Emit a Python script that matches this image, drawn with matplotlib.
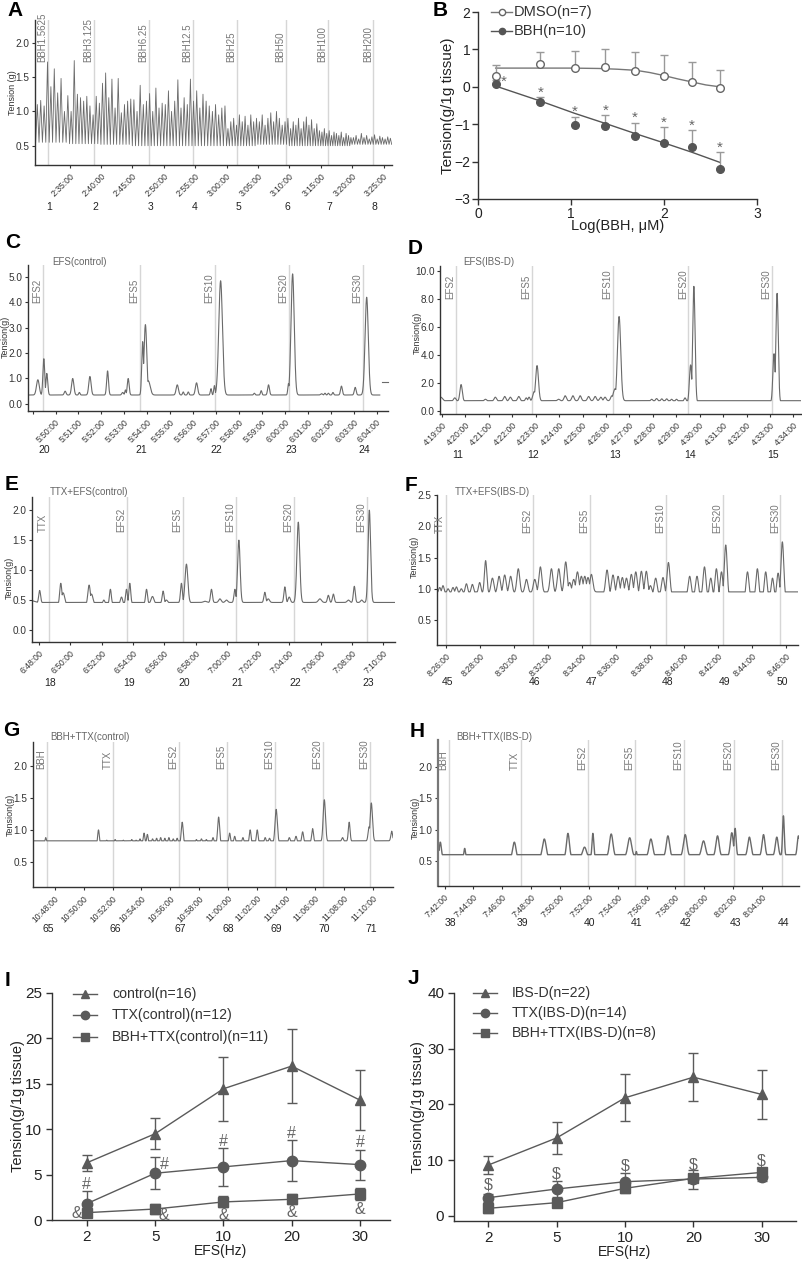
import numpy as np
import matplotlib
matplotlib.use("Agg")
import matplotlib.pyplot as plt
from matplotlib.lines import Line2D
from matplotlib.transforms import blended_transform_factory

plt.rcParams['font.family'] = ['Liberation Sans', 'DejaVu Sans']

# ======================= DATA =======================
# ---- Panel A (minutes after 2:00) ----
A_seg_bounds = [29.6, 35, 40, 45, 50, 55, 60, 65, 70, 75, 80, 86.3]
A_seg_peaks = [
    [1.10, 1.16, 1.08, 1.72, 1.36, 1.62, 1.27, 1.48, 1.00, 1.23],
    [1.00, 1.74, 1.25, 1.20, 1.15, 1.22, 1.08, 0.95, 1.22, 1.12],
    [1.41, 1.56, 1.20, 1.47, 1.05, 1.48, 0.98, 1.10, 1.15, 1.18],
    [1.17, 1.00, 1.38, 1.10, 1.15, 1.26, 1.00, 1.34, 1.05, 1.12],
    [1.10, 1.30, 1.00, 1.15, 1.46, 1.05, 1.20, 1.10, 1.47, 1.15],
    [1.30, 1.05, 1.25, 1.15, 1.08, 1.00, 1.10, 0.95, 1.05, 1.08],
    [0.75, 0.85, 0.90, 0.80, 0.95, 0.85, 0.93, 0.80, 0.95, 0.85, 0.90],
    [0.85, 0.95, 0.80, 0.90, 0.98, 0.85, 1.00, 0.90, 0.80, 0.85, 0.90],
    [0.75, 0.85, 0.80, 0.90, 0.75, 0.85, 0.92, 0.80, 0.88, 0.75, 0.82, 0.72],
    [0.70, 0.75, 0.68, 0.72, 0.65, 0.70, 0.68, 0.65, 0.70, 0.62, 0.68, 0.65, 0.62],
    [0.62, 0.65, 0.60, 0.68, 0.62, 0.65, 0.60, 0.63, 0.66, 0.60, 0.64, 0.62, 0.60, 0.63, 0.61],
]
A_seg_troughs = [0.55, 0.53, 0.52, 0.50, 0.50, 0.50, 0.50, 0.52, 0.50, 0.50, 0.52]
A_ticks = [35, 40, 45, 50, 55, 60, 65, 70, 75, 80, 85]
A_tick_labels = ['2:35:00', '2:40:00', '2:45:00', '2:50:00', '2:55:00', '3:00:00',
                 '3:05:00', '3:10:00', '3:15:00', '3:20:00', '3:25:00']
A_marks = [31.6, 38.9, 47.6, 54.7, 61.7, 69.4, 76.2, 83.4]
A_mark_labels = ['BBH1.5625', 'BBH3.125', 'BBH6.25', 'BBH12.5', 'BBH25', 'BBH50', 'BBH100', 'BBH200']
A_nums = ['1', '2', '3', '4', '5', '6', '7', '8']

# ---- Panel B ----
B_x = [0.19, 0.67, 1.04, 1.37, 1.69, 2.0, 2.3, 2.6]
B_dmso = [0.30, 0.61, 0.50, 0.54, 0.43, 0.29, 0.13, -0.03]
B_dmso_err = [0.27, 0.31, 0.46, 0.47, 0.51, 0.55, 0.52, 0.49]
B_bbh = [0.08, -0.40, -1.01, -1.04, -1.32, -1.49, -1.62, -2.21]
B_bbh_err = [0.10, 0.13, 0.21, 0.28, 0.36, 0.42, 0.46, 0.47]
B_dmso_fit_x = [0.19, 0.6, 1.0, 1.3, 1.5, 1.7, 1.85, 2.0, 2.15, 2.3, 2.45, 2.6]
B_dmso_fit_y = [0.50, 0.50, 0.50, 0.49, 0.47, 0.44, 0.38, 0.30, 0.21, 0.13, 0.05, 0.00]
B_bbh_fit_x = [0.19, 0.67, 1.04, 1.37, 1.69, 2.0, 2.3, 2.6]
B_bbh_fit_y = [0.02, -0.38, -0.71, -0.98, -1.25, -1.50, -1.75, -2.02]

# ---- Panel C (minutes after 5:00) ----
C_base_t = [48.84, 64.14]
C_base_v = [0.35, 0.35]
C_pk_t = [49.23, 49.49, 49.62, 50.42, 50.75, 51.04, 51.5, 52.27, 52.93, 53.05, 53.17,
          53.8, 53.92, 54.05, 55.31, 55.57, 55.79, 56.15, 56.78, 56.93, 57.2, 58.67,
          58.97, 59.29, 60.16, 60.34, 61.6, 61.75, 61.9, 62.1, 62.47, 63.07, 63.57]
C_pk_h = [0.95, 1.78, 1.2, 0.5, 1.0, 0.45, 1.08, 1.3, 0.45, 0.55, 1.0,
          2.45, 3.12, 0.9, 0.75, 0.47, 0.47, 0.83, 0.6, 0.72, 4.85, 0.42,
          0.52, 0.75, 0.8, 5.12, 0.4, 0.42, 0.42, 0.45, 0.7, 0.65, 4.2]
C_pk_w = [0.06, 0.04, 0.04, 0.04, 0.05, 0.03, 0.05, 0.04, 0.04, 0.03, 0.04,
          0.04, 0.06, 0.08, 0.05, 0.03, 0.03, 0.05, 0.03, 0.03, 0.08, 0.03,
          0.03, 0.04, 0.03, 0.07, 0.04, 0.03, 0.03, 0.03, 0.04, 0.04, 0.07]
C_ticks = [49, 50, 51, 52, 53, 54, 55, 56, 57, 58, 59, 60, 61, 62, 63, 64]
C_tick_labels = ['', '5:50:00', '5:51:00', '5:52:00', '5:53:00', '5:54:00', '5:55:00', '5:56:00',
                 '5:57:00', '5:58:00', '5:59:00', '6:00:00', '6:01:00', '6:02:00', '6:03:00', '6:04:00']
C_marks = [49.45, 53.69, 56.95, 60.2, 63.39]
C_mark_labels = ['EFS2', 'EFS5', 'EFS10', 'EFS20', 'EFS30']
C_nums = ['20', '21', '22', '23', '24']

# ---- Panel D (minutes after 4:00) ----
D_base_t = [18.94, 26.5, 29.9, 34.3]
D_base_v = [0.72, 0.75, 0.62, 0.60]
D_pk_t = [18.95, 19.55, 19.82, 20.86, 21.28, 21.68, 21.92, 22.28, 22.6, 22.72, 22.94, 23.06,
          23.98, 24.26, 24.59, 24.9, 25.26, 25.54, 25.78, 25.96, 26.25, 26.39, 26.56,
          27.95, 28.16, 28.38, 28.59, 28.8, 29.01, 29.37, 29.61, 29.75,
          31.57, 32.13, 32.28, 32.8, 33.17, 33.3]
D_pk_h = [1.0, 0.95, 1.9, 0.85, 1.0, 1.05, 1.0, 1.05, 0.95, 1.0, 1.4, 3.25,
          0.85, 1.1, 1.1, 1.1, 1.05, 1.05, 1.0, 1.0, 1.1, 1.6, 6.75,
          0.85, 0.9, 0.88, 0.88, 0.85, 0.85, 0.95, 3.3, 8.9,
          0.75, 0.65, 0.68, 0.7, 4.1, 8.4]
D_pk_w = [0.08, 0.05, 0.05, 0.05, 0.05, 0.05, 0.05, 0.05, 0.04, 0.04, 0.06, 0.06,
          0.05, 0.05, 0.05, 0.05, 0.05, 0.05, 0.05, 0.05, 0.05, 0.08, 0.07,
          0.05, 0.05, 0.05, 0.05, 0.05, 0.05, 0.05, 0.05, 0.05,
          0.05, 0.05, 0.05, 0.05, 0.05, 0.05]
D_ticks = list(range(19, 35))
D_tick_labels = ['4:19:00', '4:20:00', '4:21:00', '4:22:00', '4:23:00', '4:24:00', '4:25:00', '4:26:00',
                 '4:27:00', '4:28:00', '4:29:00', '4:30:00', '4:31:00', '4:32:00', '4:33:00', '4:34:00']
D_marks = [19.6, 22.85, 26.32, 29.52, 33.08]
D_mark_labels = ['EFS2', 'EFS5', 'EFS10', 'EFS20', 'EFS30']
D_nums = ['11', '12', '13', '14', '15']

# ---- Panel E (minutes after 6:00) ----
E_base_t = [47.55, 48.5, 50.0, 55.0, 58.0, 70.75]
E_base_v = [0.49, 0.42, 0.41, 0.44, 0.46, 0.46]
E_pk_t = [48.04, 48.68, 49.39, 49.54, 51.2, 51.35, 52.14, 52.56, 53.27, 53.59, 53.8,
          54.87, 55.25, 55.93, 56.14, 57.1, 57.42, 58.6, 59.02, 59.56, 59.98, 60.52,
          60.77, 62.43, 62.65, 63.71, 63.99, 64.57, 65.95, 66.49, 66.81, 67.77,
          68.15, 68.62, 69.11]
E_pk_h = [0.66, 0.44, 0.78, 0.62, 0.75, 0.6, 0.5, 0.68, 0.55, 0.68, 0.78,
          0.68, 0.56, 0.65, 0.5, 0.78, 1.1, 0.48, 0.68, 0.52, 0.5, 0.68,
          1.5, 0.63, 0.52, 0.72, 0.55, 1.8, 0.52, 0.58, 0.6, 0.5,
          0.73, 0.5, 2.0]
E_pk_w = [0.06, 0.07, 0.07, 0.10, 0.08, 0.10, 0.07, 0.06, 0.07, 0.06, 0.06,
          0.06, 0.09, 0.06, 0.08, 0.06, 0.09, 0.10, 0.06, 0.08, 0.08, 0.06,
          0.08, 0.06, 0.08, 0.06, 0.07, 0.09, 0.10, 0.06, 0.06, 0.08,
          0.06, 0.07, 0.08]
E_ticks = list(range(48, 71, 2))
E_tick_labels = ['6:48:00', '6:50:00', '6:52:00', '6:54:00', '6:56:00', '6:58:00',
                 '7:00:00', '7:02:00', '7:04:00', '7:06:00', '7:08:00', '7:10:00']
E_marks = [48.62, 53.63, 57.21, 60.58, 64.29, 68.93]
E_mark_labels = ['TTX', 'EFS2', 'EFS5', 'EFS10', 'EFS20', 'EFS30']
E_nums = ['18', '19', '20', '21', '22', '23']

# ---- Panel F (minutes after 8:00) ----
F_base_t = [25.49, 34.6, 35.2, 39.3, 40.2, 42.6, 43.6, 46.0, 46.72]
F_base_v = [0.92, 0.95, 0.92, 0.90, 0.88, 0.84, 0.83, 0.81, 0.80]
F_pk_t = [25.65, 25.84, 26.14, 26.43, 26.63, 26.92, 27.22, 27.57, 28.0, 28.35, 28.75,
          29.14, 29.47, 29.82, 30.27, 30.75, 31.24, 31.57, 32.22, 32.65, 33.06, 33.29,
          33.53, 33.75, 33.98, 34.18, 34.37, 34.57, 35.49, 35.84, 36.14, 36.39, 36.63,
          36.92, 37.18, 37.51, 37.8, 38.04, 38.35, 38.78, 39.1, 40.35, 40.78, 41.22,
          41.59, 41.92, 42.22, 42.47, 43.75, 44.33, 44.82, 45.22, 45.55, 45.8]
F_pk_h = [1.02, 1.05, 1.0, 1.02, 1.03, 1.0, 1.08, 1.07, 1.1, 1.45, 1.17,
          1.2, 1.22, 1.2, 1.32, 1.15, 1.15, 1.35, 1.32, 1.32, 1.43, 1.1,
          1.15, 1.27, 1.2, 1.2, 1.18, 1.23, 1.3, 1.22, 1.2, 1.18, 1.17,
          1.23, 1.27, 1.28, 1.28, 1.05, 1.17, 1.18, 1.42, 1.2, 1.2, 1.35,
          1.17, 1.32, 1.27, 1.7, 1.27, 1.32, 1.27, 1.17, 1.25, 1.75]
F_pk_w = [0.07] * 10 + [0.085] * 44
F_ticks = list(range(26, 47, 2))
F_tick_labels = ['8:26:00', '8:28:00', '8:30:00', '8:32:00', '8:34:00', '8:36:00',
                 '8:38:00', '8:40:00', '8:42:00', '8:44:00', '8:46:00']
F_marks = [26.0, 31.14, 34.49, 38.94, 42.31, 45.69]
F_mark_labels = ['TTX', 'EFS2', 'EFS5', 'EFS10', 'EFS20', 'EFS30']
F_nums = ['45', '46', '47', '48', '49', '50']

# ---- Panel G (minutes after 10:00) ----
G_base_t = [46.5, 56.7, 60.3, 63.8, 67.2, 71.4]
G_base_v = [0.74, 0.77, 0.78, 0.80, 0.82, 0.83]
G_pk_t = [46.62, 46.85, 47.06, 47.38, 47.7, 47.93, 48.21, 48.46, 48.74, 49.01, 49.26, 49.54,
          49.81, 50.11, 50.36, 50.64, 51.03, 51.33, 51.6, 51.9, 52.18, 52.48, 52.75, 53.05,
          53.33, 53.63, 53.9, 54.18, 54.41, 54.77, 55.05, 55.33, 55.62, 55.9, 56.2, 56.47,
          56.82, 57.46, 57.8, 58.15, 58.49, 58.95, 59.34, 60.1, 60.45, 61.02, 61.52, 62.01,
          62.56, 62.86, 63.32, 64.23, 64.69, 65.15, 65.84, 66.65, 67.91, 68.37, 69.75, 69.9,
          71.31]
G_pk_h = [0.82, 0.80, 0.82, 0.88, 0.80, 0.81, 0.80, 0.81, 0.80, 0.82, 0.80, 0.82,
          0.81, 0.82, 0.83, 0.82, 1.00, 0.82, 0.84, 0.83, 0.85, 0.82, 0.84, 0.83,
          0.85, 0.84, 0.86, 0.95, 0.93, 0.86, 0.87, 0.88, 0.87, 0.88, 0.86, 0.87,
          1.12, 0.83, 0.85, 0.86, 0.85, 0.88, 1.20, 0.95, 0.90, 0.88, 1.00, 1.00,
          0.88, 0.87, 1.32, 0.88, 0.90, 0.97, 1.02, 1.47, 0.88, 1.12, 1.05, 1.42,
          0.98]
G_pk_w = ([0.06] * 36 + [0.07] + [0.06] * 5 + [0.07] + [0.06] * 7 + [0.08] + [0.06] * 4
          + [0.08] + [0.06, 0.06, 0.07, 0.08, 0.06])
G_ticks = list(range(48, 71, 2))
G_tick_labels = ['10:48:00', '10:50:00', '10:52:00', '10:54:00', '10:56:00', '10:58:00',
                 '11:00:00', '11:02:00', '11:04:00', '11:06:00', '11:08:00', '11:10:00']
G_marks = [47.47, 52.06, 56.61, 59.92, 63.22, 66.53, 69.79]
G_mark_labels = ['BBH', 'TTX', 'EFS2', 'EFS5', 'EFS10', 'EFS20', 'EFS30']
G_nums = ['65', '66', '67', '68', '69', '70', '71']

# ---- Panel H (minutes after 7:00) ----
H_base_t = [41.54, 41.9, 46.0, 47.5, 50.0, 55.0, 66.6]
H_base_v = [0.60, 0.52, 0.51, 0.52, 0.55, 0.57, 0.58]
H_pk_t = [41.54, 41.7, 43.39, 46.83, 48.91, 49.97, 50.55, 51.7, 52.28, 53.55, 54.83, 55.29,
          56.3, 57.48, 58.68, 59.95, 60.92, 61.91, 62.14, 63.13, 64.11, 65.03, 65.49, 66.53]
H_pk_h = [0.72, 0.80, 0.70, 0.80, 0.85, 0.57, 0.94, 0.72, 0.94, 0.93, 0.87, 0.65,
          0.85, 0.90, 0.92, 0.82, 0.90, 0.95, 1.02, 0.88, 0.92, 0.88, 1.22, 0.90]
H_pk_w = [0.06, 0.07, 0.06, 0.12, 0.13, 0.05, 0.10, 0.13, 0.06, 0.12, 0.13, 0.04,
          0.12, 0.11, 0.12, 0.13, 0.11, 0.10, 0.07, 0.11, 0.10, 0.10, 0.06, 0.08]
H_ticks = list(range(42, 65, 2))
H_tick_labels = ['7:42:00', '7:44:00', '7:46:00', '7:48:00', '7:50:00', '7:52:00',
                 '7:54:00', '7:56:00', '7:58:00', '8:00:00', '8:02:00', '8:04:00']
H_marks = [42.32, 47.29, 51.93, 55.19, 58.6, 62.09, 65.42]
H_mark_labels = ['BBH', 'TTX', 'EFS2', 'EFS5', 'EFS10', 'EFS20', 'EFS30']
H_nums = ['38', '39', '40', '41', '42', '43', '44']

# ---- Panel I ----
EFS_labels = ['2', '5', '10', '20', '30']
I_control = [6.3, 9.5, 14.45, 16.95, 13.2]
I_control_err = [0.9, 1.7, 3.5, 4.05, 3.3]
I_ttx = [1.8, 5.15, 5.85, 6.54, 6.1]
I_ttx_err = [1.35, 1.75, 2.1, 2.25, 1.65]
I_bbh = [0.81, 1.21, 1.99, 2.28, 2.87]
I_bbh_err = [0.3, 0.5, 0.6, 0.55, 0.7]
I_hash_y = [3.9, 6.1, 8.7, 9.5, 8.5]
I_amp_y = [0.7, 0.5, 0.5, 0.85, 1.15]

# ---- Panel J ----
J_ibs = [9.13, 14.0, 21.2, 24.9, 21.8]
J_ibs_err = [1.6, 2.85, 4.2, 4.25, 4.35]
J_ttx = [3.28, 4.84, 6.15, 6.63, 6.93]
J_ttx_err = [0.7, 1.5, 1.5, 1.7, 0.6]
J_bbh = [1.37, 2.39, 4.96, 6.75, 7.82]
J_bbh_err = [0.9, 0.4, 0.9, 0.7, 0.7]
J_dollar_y = [5.6, 7.6, 9.0, 9.1, 9.85]

# ======================= FIGURE =======================
W, H = 803, 1262
fig = plt.figure(figsize=(W / 100, H / 100), dpi=100)
DARK = '#333333'
TRACE = '#6a6a6a'
VLINE = '#d6d6d6'
PTC = '#5a5a5a'


def fx(x):
    return x / W


def fy(y):
    return 1 - y / H


def add_ax(l, t, r, b):
    return fig.add_axes([l / W, 1 - b / H, (r - l) / W, (b - t) / H])


def letter(x, y, s):
    fig.text(fx(x), fy(y), s, fontsize=15, fontweight='bold', ha='left', va='center', color='black')


def style_axes(ax, lw=1.0):
    for s in ['top', 'right']:
        ax.spines[s].set_visible(False)
    for s in ['left', 'bottom']:
        ax.spines[s].set_color(DARK)
        ax.spines[s].set_linewidth(lw)


def build_trace(t0, t1, base_t, base_v, pk_t, pk_h, pk_w, n=5000):
    t = np.linspace(t0, t1, n)
    base = np.interp(t, base_t, base_v)
    y = base.copy()
    for tp, hp, wp in zip(pk_t, pk_h, pk_w):
        bp = np.interp(tp, base_t, base_v)
        y = np.maximum(y, bp + (hp - bp) * np.exp(-0.5 * ((t - tp) / wp) ** 2))
    return t, y


def trace_panel(box, xlim, ylim, yticks, t, y, xticks, xlabels, marks, mark_labels, mark_y,
                nums, num_y, ylab_xy, title=None, title_xy=None, lw=0.8):
    ax = add_ax(*box)
    style_axes(ax)
    for m in marks:
        ax.axvline(m, color=VLINE, lw=1.0, zorder=0)
    ax.plot(t, y, color=TRACE, lw=lw, zorder=2)
    ax.set_xlim(*xlim)
    ax.set_ylim(*ylim)
    ax.set_yticks(yticks)
    ax.set_yticklabels(['%.1f' % v for v in yticks], fontsize=7.2, color=DARK)
    ax.set_xticks(xticks)
    ax.set_xticklabels(xlabels, rotation=45, ha='right', rotation_mode='anchor',
                       fontsize=6.2, color=DARK)
    ax.tick_params(axis='both', direction='out', length=2.5, width=0.8, color=DARK, pad=1.5)
    ax.tick_params(axis='x', pad=2.5)
    ax.set_ylabel('Tension(g)', fontsize=6.5, color=DARK)
    ax.yaxis.set_label_coords(*ylab_xy)
    for m, lab in zip(marks, mark_labels):
        ax.text(m - (xlim[1] - xlim[0]) * 0.002, mark_y, lab, rotation=90, ha='right', va='bottom',
                fontsize=7, color='#777777', clip_on=False)
    tr = blended_transform_factory(ax.transData, fig.transFigure)
    for m, n in zip(marks, nums):
        ax.text(m + (xlim[1] - xlim[0]) * 0.004, fy(num_y), n, transform=tr, ha='center', va='center',
                fontsize=7.5, color='#222222')
    if title:
        fig.text(fx(title_xy[0]), fy(title_xy[1]), title, fontsize=7, color='#666666',
                 ha='left', va='center')
    return ax


# ---------------- Panel A ----------------
tA, yA = [], []
for i in range(len(A_seg_peaks)):
    s, e = A_seg_bounds[i], A_seg_bounds[i + 1]
    pk = A_seg_peaks[i]
    n = len(pk)
    for k in range(n):
        tA.append(s + k * (e - s) / n)
        yA.append(A_seg_troughs[i])
        tA.append(s + (k + 0.5) * (e - s) / n)
        yA.append(pk[k])
tA.append(A_seg_bounds[-1])
yA.append(A_seg_troughs[-1])
letter(7, 10, 'A')
axA = trace_panel((35, 20, 392, 165), (29.5, 86.35), (0.22, 2.33), [0.5, 1.0, 1.5, 2.0],
                  tA, yA, A_ticks, A_tick_labels, A_marks, A_mark_labels, 1.72,
                  A_nums, 207, (-0.051, 0.59), lw=0.6)
axA.set_ylabel('Tension (g)', fontsize=6.5, color=DARK)

# ---------------- Panel B ----------------
letter(433, 10, 'B')
axB = add_ax(478, 12, 757, 199)
style_axes(axB)
axB.plot(B_dmso_fit_x, B_dmso_fit_y, color='#777777', lw=1.0, zorder=2)
axB.plot(B_bbh_fit_x, B_bbh_fit_y, color='#555555', lw=1.0, zorder=2)
axB.errorbar(B_x, B_dmso, yerr=[np.zeros(len(B_x)), B_dmso_err], fmt='o', ms=5.5,
             mfc='white', mec='#666666', mew=1.0, ecolor='#999999', elinewidth=1.0,
             capsize=3, capthick=1.0, zorder=3)
axB.errorbar(B_x, B_bbh, yerr=[np.zeros(len(B_x)), B_bbh_err], fmt='o', ms=5.5,
             mfc='#555555', mec='#555555', ecolor='#999999', elinewidth=1.0,
             capsize=3, capthick=1.0, zorder=3)
for i, (xv, yv, ev) in enumerate(zip(B_x, B_bbh, B_bbh_err)):
    if i == 0:
        axB.text(xv + 0.09, yv + 0.05, '*', fontsize=11, color='#666666', ha='center', va='center')
    else:
        axB.text(xv, yv + ev + 0.12, '*', fontsize=11, color='#666666', ha='center', va='center')
axB.set_xlim(0, 3)
axB.set_ylim(-3, 2)
axB.set_xticks([0, 1, 2, 3])
axB.set_yticks([-3, -2, -1, 0, 1, 2])
axB.tick_params(axis='both', direction='out', length=4, width=1, color=DARK, labelsize=10,
                labelcolor='#222222', pad=1.5)
axB.set_xlabel('Log(BBH, μM)', fontsize=10.5, color='#222222')
axB.xaxis.set_label_coords(0.5, -0.108)
axB.set_ylabel('Tension(g/1g tissue)', fontsize=11, color='#222222')
axB.yaxis.set_label_coords(-0.082, 0.5)


def legend_row(x0, x1, xm, xt, y, marker, mfc, mec, text, fs, ms, lc):
    fig.add_artist(Line2D([fx(x0), fx(x1)], [fy(y), fy(y)], transform=fig.transFigure,
                          color=lc, lw=1.0))
    fig.add_artist(Line2D([fx(xm)], [fy(y)], transform=fig.transFigure, marker=marker,
                          ms=ms, mfc=mfc, mec=mec, ls='none'))
    fig.text(fx(xt), fy(y), text, fontsize=fs, va='center', ha='left', color='#333333')


legend_row(491, 512, 502, 514, 12, 'o', 'white', '#666666', 'DMSO(n=7)', 10.5, 4.5, '#777777')
legend_row(491, 512, 502, 514, 31, 'o', '#555555', '#555555', 'BBH(n=10)', 10.5, 4.5, '#555555')

# ---------------- Panel C ----------------
letter(5, 243, 'C')
tC, yC = build_trace(48.84, 64.14, C_base_t, C_base_v, C_pk_t, C_pk_h, C_pk_w)
axC = trace_panel((28, 265, 388, 411), (48.8, 64.5), (-0.28, 5.47), [0.0, 1.0, 2.0, 3.0, 4.0, 5.0],
                  tC, yC, C_ticks, C_tick_labels, C_marks, C_mark_labels, 3.97,
                  C_nums, 450, (-0.0506, 0.51), 'EFS(control)', (52, 262))
axC.plot([64.22, 64.5], [0.85, 0.85], color=TRACE, lw=0.8, clip_on=False)

# ---------------- Panel D ----------------
letter(408, 248, 'D')
tD, yD = build_trace(18.94, 34.3, D_base_t, D_base_v, D_pk_t, D_pk_h, D_pk_w)
axD = trace_panel((440, 266, 801, 414), (18.92, 34.32), (-0.2, 10.35),
                  [0.0, 2.0, 4.0, 6.0, 8.0, 10.0],
                  tD, yD, D_ticks, D_tick_labels, D_marks, D_mark_labels, 7.98,
                  D_nums, 455, (-0.0504, 0.55), 'EFS(IBS-D)', (463, 262))

# ---------------- Panel E ----------------
letter(5, 485, 'E')
tE, yE = build_trace(47.56, 70.75, E_base_t, E_base_v, E_pk_t, E_pk_h, E_pk_w)
axE = trace_panel((32, 497, 395, 642), (47.55, 70.75), (-0.2, 2.22), [0.0, 0.5, 1.0, 1.5, 2.0],
                  tE, yE, E_ticks, E_tick_labels, E_marks, E_mark_labels, 1.63,
                  E_nums, 683, (-0.050, 0.44), 'TTX+EFS(control)', (50, 492))

# ---------------- Panel F ----------------
letter(405, 486, 'F')
tF, yF = build_trace(25.49, 46.72, F_base_t, F_base_v, F_pk_t, F_pk_h, F_pk_w)
axF = trace_panel((437, 495, 798, 645), (25.49, 46.72), (0.1, 2.5), [0.5, 1.0, 1.5, 2.0, 2.5],
                  tF, yF, F_ticks, F_tick_labels, F_marks, F_mark_labels, 1.89,
                  F_nums, 682, (-0.0504, 0.59), 'TTX+EFS(IBS-D)', (455, 492))

# ---------------- Panel G ----------------
letter(3, 730, 'G')
tG, yG = build_trace(46.5, 71.4, G_base_t, G_base_v, G_pk_t, G_pk_h, G_pk_w)
axG = trace_panel((33, 742, 393, 887), (46.5, 71.4), (0.11, 2.37), [0.5, 1.0, 1.5, 2.0],
                  tG, yG, G_ticks, G_tick_labels, G_marks, G_mark_labels, 1.95,
                  G_nums, 929, (-0.0506, 0.5), 'BBH+TTX(control)', (50, 737))

# ---------------- Panel H ----------------
letter(410, 732, 'H')
tH, yH = build_trace(41.54, 66.57, H_base_t, H_base_v, H_pk_t, H_pk_h, H_pk_w)
axH = trace_panel((438, 740, 799, 886), (41.54, 66.57), (0.1, 2.43), [0.5, 1.0, 1.5, 2.0],
                  tH, yH, H_ticks, H_tick_labels, H_marks, H_mark_labels, 1.95,
                  H_nums, 923, (-0.0504, 0.47), 'BBH+TTX(IBS-D)', (456, 737), lw=1.0)
axH.spines['left'].set_linewidth(1.6)
axH.spines['left'].set_color('#777777')


# ---------------- Panels I / J ----------------
def summary_panel(box, xlim, ylim, yticks, series, ylab_x):
    ax = add_ax(*box)
    style_axes(ax)
    xs = np.arange(len(EFS_labels))
    for vals, errs, mk, ms in series:
        ax.errorbar(xs, vals, yerr=errs, fmt='-' + mk, color=PTC, ms=ms, lw=1.0,
                    elinewidth=1.0, capsize=3.5, capthick=1.0, zorder=3)
    ax.set_xlim(*xlim)
    ax.set_ylim(*ylim)
    ax.set_xticks(xs)
    ax.set_xticklabels(EFS_labels)
    ax.set_yticks(yticks)
    ax.tick_params(axis='both', direction='out', length=4, width=1, color=DARK, labelsize=11,
                   labelcolor='#222222', pad=3)
    ax.set_xlabel('EFS(Hz)', fontsize=10, color='#222222')
    ax.xaxis.set_label_coords(0.5, -0.104)
    ax.set_ylabel('Tension(g/1g tissue)', fontsize=10.5, color='#222222')
    ax.yaxis.set_label_coords(ylab_x, 0.5)
    return ax


letter(5, 981, 'I')
axI = summary_panel((52, 993, 390, 1220), (-0.51, 4.44), (0, 25), [0, 5, 10, 15, 20, 25],
                    [(I_control, I_control_err, '^', 7), (I_ttx, I_ttx_err, 'o', 7.5),
                     (I_bbh, I_bbh_err, 's', 7)], -0.08)
hash_dx = [0.0, 0.13, 0.0, 0.0, 0.0]
amp_dx = [-0.14, 0.13, 0.0, 0.0, 0.0]
for i in range(5):
    axI.text(i + hash_dx[i], I_hash_y[i], '#', fontsize=11.5, color='#666666', ha='center', va='center')
    axI.text(i + amp_dx[i], I_amp_y[i], '&', fontsize=11.5, color='#666666', ha='center', va='center',
             clip_on=False)
legend_row(73, 97, 85, 112, 994, '^', PTC, PTC, 'control(n=16)', 10.2, 6, PTC)
legend_row(73, 97, 85, 112, 1015, 'o', PTC, PTC, 'TTX(control)(n=12)', 10.2, 6, PTC)
legend_row(73, 97, 85, 112, 1037, 's', PTC, PTC, 'BBH+TTX(control)(n=11)', 10.2, 5.5, PTC)

letter(408, 979, 'J')
axJ = summary_panel((454, 993, 796, 1221), (-0.5, 4.5), (-0.9, 40), [0, 10, 20, 30, 40],
                    [(J_ibs, J_ibs_err, '^', 7), (J_ttx, J_ttx_err, 'o', 7.5),
                     (J_bbh, J_bbh_err, 's', 7)], -0.085)
for i in range(5):
    axJ.text(i, J_dollar_y[i], '$', fontsize=11.5, color='#666666', ha='center', va='center')
legend_row(473, 497, 485, 512, 993, '^', PTC, PTC, 'IBS-D(n=22)', 10.2, 6, PTC)
legend_row(473, 497, 485, 512, 1013, 'o', PTC, PTC, 'TTX(IBS-D)(n=14)', 10.2, 6, PTC)
legend_row(473, 497, 485, 512, 1033, 's', PTC, PTC, 'BBH+TTX(IBS-D)(n=8)', 10.2, 5.5, PTC)

fig.savefig('out.png', dpi=100, facecolor='white')
